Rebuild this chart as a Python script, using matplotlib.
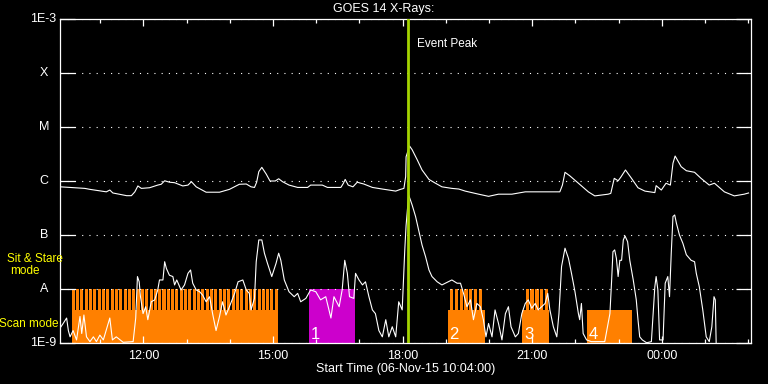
import matplotlib
matplotlib.use("Agg")
import matplotlib.pyplot as plt
import matplotlib.transforms as mtransforms
from matplotlib.ticker import NullLocator, FixedLocator
import numpy as np

plt.rcParams['font.family'] = ['Liberation Sans', 'DejaVu Sans']

# GOES 14 long channel (1-8 A), time in hours after 06-Nov-15 00:00
long_t = [10.07, 10.30, 10.64, 10.76, 11.14, 11.22, 11.29, 11.61, 11.72, 11.80,
          11.87, 11.95, 12.14, 12.33, 12.41, 12.49, 12.60, 12.72, 12.91, 13.03,
          13.11, 13.22, 13.45, 13.76, 13.99, 14.22, 14.38, 14.49, 14.57, 14.62,
          14.67, 14.74, 14.84, 14.93, 15.05, 15.13, 15.22, 15.37, 15.57, 15.80,
          15.87, 16.14, 16.26, 16.57, 16.63, 16.67, 16.74, 16.85, 16.95, 17.03,
          17.10, 17.30, 17.53, 17.84, 17.95, 18.03, 18.07, 18.08, 18.16, 18.22,
          18.34, 18.45, 18.61, 18.76, 18.91, 19.14, 19.30, 19.45, 19.76, 19.99,
          20.22, 20.53, 20.84, 21.14, 21.49, 21.64, 21.70, 21.76, 21.87, 22.07,
          22.30, 22.45, 22.76, 22.82, 22.90, 22.99, 23.05, 23.16, 23.30, 23.45,
          23.61, 23.84, 23.87, 23.99, 24.10, 24.20, 24.26, 24.31, 24.45, 24.57,
          24.76, 24.91, 25.10, 25.22, 25.45, 25.68, 25.91, 26.01]
long_f = [7.8e-7, 7.6e-7, 7.3e-7, 7.0e-7, 6.3e-7, 6.8e-7, 6.0e-7, 5.35e-7, 5.35e-7, 6.3e-7,
          8.1e-7, 7.3e-7, 7.5e-7, 8.4e-7, 8.7e-7, 1.01e-6, 9.5e-7, 9.3e-7, 8.1e-7, 8.4e-7,
          9.7e-7, 7.8e-7, 6.2e-7, 6.2e-7, 7.0e-7, 8.7e-7, 8.8e-7, 7.8e-7, 7.6e-7, 9.5e-7,
          1.49e-6, 1.79e-6, 1.35e-6, 1.0e-6, 1.0e-6, 1.10e-6, 9.7e-7, 8.4e-7, 7.6e-7, 7.6e-7,
          8.4e-7, 8.4e-7, 7.6e-7, 7.6e-7, 9.1e-7, 1.07e-6, 8.4e-7, 7.8e-7, 9.5e-7, 9.1e-7,
          8.8e-7, 7.6e-7, 7.1e-7, 6.5e-7, 7.0e-7, 7.3e-7, 1.2e-6, 2.8e-6, 4.45e-6, 3.8e-6,
          2.45e-6, 1.6e-6, 1.07e-6, 9.1e-7, 7.8e-7, 7.3e-7, 7.1e-7, 6.5e-7, 5.7e-7, 5.2e-7,
          5.7e-7, 5.7e-7, 6.3e-7, 6.3e-7, 6.3e-7, 6.3e-7, 8.4e-7, 1.45e-6, 1.25e-6, 9.1e-7,
          6.3e-7, 5.3e-7, 5.7e-7, 5.9e-7, 1.12e-6, 1.01e-6, 1.17e-6, 1.6e-6, 1.12e-6, 7.5e-7,
          6.5e-7, 6.1e-7, 8.2e-7, 6.8e-7, 9.1e-7, 8.4e-7, 2.13e-6, 2.9e-6, 1.84e-6, 1.55e-6,
          1.45e-6, 1.12e-6, 8.4e-7, 9.1e-7, 6.3e-7, 5.3e-7, 5.7e-7, 6.0e-7]

# GOES 14 short channel (0.5-4 A)
short_t = [10.07, 10.14, 10.22, 10.26, 10.30, 10.37, 10.45, 10.53, 10.57, 10.62,
           10.68, 10.76, 10.84, 10.91, 10.99, 11.07, 11.22, 11.28, 11.37, 11.53,
           11.76, 11.82, 11.86, 11.90, 11.93, 11.99, 12.05, 12.10, 12.18, 12.26,
           12.33, 12.37, 12.45, 12.49, 12.53, 12.60, 12.68, 12.72, 12.77, 12.87,
           12.95, 13.03, 13.09, 13.14, 13.22, 13.30, 13.37, 13.45, 13.53, 13.60,
           13.68, 13.76, 13.83, 13.91, 13.99, 14.11, 14.19, 14.30, 14.38, 14.45,
           14.49, 14.57, 14.61, 14.67, 14.74, 14.80, 14.87, 14.97, 15.07, 15.13,
           15.18, 15.26, 15.37, 15.49, 15.57, 15.64, 15.76, 15.87, 15.99, 16.10,
           16.22, 16.34, 16.41, 16.53, 16.60, 16.66, 16.72, 16.77, 16.87, 16.91,
           16.99, 17.07, 17.14, 17.22, 17.30, 17.37, 17.45, 17.53, 17.61, 17.68,
           17.76, 17.84, 17.91, 17.99, 18.05, 18.08, 18.14, 18.22, 18.30, 18.37,
           18.45, 18.53, 18.61, 18.68, 18.80, 18.91, 18.99, 19.14, 19.26, 19.34,
           19.41, 19.49, 19.57, 19.64, 19.72, 19.80, 19.87, 19.93, 19.99, 20.07,
           20.14, 20.22, 20.30, 20.38, 20.45, 20.51, 20.61, 20.68, 20.76, 20.84,
           20.91, 20.99, 21.07, 21.14, 21.22, 21.30, 21.36, 21.41, 21.49, 21.57,
           21.62, 21.68, 21.76, 21.84, 21.91, 21.99, 22.07, 22.10, 22.14, 22.18,
           22.26, 22.37, 22.53, 22.68, 22.80, 22.84, 22.87, 22.91, 22.95, 22.99,
           23.03, 23.07, 23.11, 23.15, 23.21, 23.26, 23.34, 23.41, 23.45, 23.49,
           23.55, 23.65, 23.76, 23.84, 23.87, 23.91, 23.95, 24.03, 24.08, 24.14,
           24.18, 24.22, 24.26, 24.30, 24.34, 24.41, 24.49, 24.57, 24.68, 24.76,
           24.80, 24.87, 24.95, 24.99, 25.03, 25.10, 25.16, 25.21, 25.24, 25.26,
           25.30]
short_f = [1.9e-9, 2.3e-9, 2.9e-9, 1.7e-9, 1.3e-9, 1.7e-9, 1.14e-9, 3.1e-9, 1.5e-9, 3.3e-9,
           1.3e-9, 1.06e-9, 1.3e-9, 1.06e-9, 1.4e-9, 1.14e-9, 2.9e-9, 1.14e-9, 1.3e-9, 1.03e-9,
           1.06e-9, 2.9e-9, 1.7e-8, 1.36e-8, 7.2e-9, 3.5e-9, 4.7e-9, 2.7e-9, 5.8e-9, 6.3e-9,
           9.6e-9, 1.47e-8, 1.47e-8, 3.2e-8, 2.4e-8, 1.8e-8, 1.7e-8, 1.19e-8, 1.47e-8, 9.6e-9,
           1.19e-8, 1.95e-8, 2.25e-8, 1.28e-8, 9.6e-9, 8.9e-9, 7.7e-9, 5.8e-9, 7.2e-9, 3.5e-9,
           1.7e-9, 3.1e-9, 5.8e-9, 3.3e-9, 4.7e-9, 8.3e-9, 1.36e-8, 1.47e-8, 9.6e-9, 8.3e-9,
           4.1e-9, 6.7e-9, 3.2e-8, 8.1e-8, 8.1e-8, 4.6e-8, 3.0e-8, 1.7e-8, 3.0e-8, 4.6e-8,
           3.4e-8, 1.47e-8, 8.9e-9, 7.2e-9, 8.3e-9, 5.8e-9, 6.7e-9, 9.6e-9, 8.9e-9, 6.3e-9,
           7.2e-9, 2.9e-9, 7.2e-9, 4.7e-9, 9.6e-9, 3.4e-8, 1.95e-8, 7.2e-9, 6.7e-9, 1.95e-8,
           1.47e-8, 1.19e-8, 1.36e-8, 7.2e-9, 4.1e-9, 3.5e-9, 1.7e-9, 1.3e-9, 2.7e-9, 1.3e-9,
           2.0e-9, 1.3e-9, 5.8e-9, 4.1e-9, 5.3e-8, 1.5e-7, 5.5e-7, 3.6e-7, 2.2e-7, 1.24e-7,
           6.5e-8, 4.0e-8, 2.25e-8, 1.7e-8, 1.36e-8, 1.19e-8, 1.28e-8, 1.47e-8, 1.28e-8, 1.28e-8,
           8.3e-9, 4.7e-9, 6.3e-9, 2.7e-9, 5.4e-9, 4.7e-9, 2.7e-9, 1.3e-9, 2.3e-9, 1.3e-9,
           4.1e-9, 2.3e-9, 1.14e-9, 3.5e-9, 4.7e-9, 2.0e-9, 1.3e-9, 1.5e-9, 3.5e-9, 5.4e-9,
           6.3e-9, 4.4e-9, 5.4e-9, 4.1e-9, 4.7e-9, 5.4e-9, 8.3e-9, 4.1e-9, 2.0e-9, 1.3e-9,
           3.5e-9, 2.6e-8, 5.7e-8, 3.7e-8, 1.95e-8, 9.0e-9, 3.5e-9, 2.7e-9, 5.4e-9, 1.5e-9,
           1.14e-9, 1.06e-9, 1.06e-9, 1.06e-9, 3.5e-9, 1.47e-8, 4.9e-8, 5.3e-8, 3.7e-8, 1.7e-8,
           3.4e-8, 3.4e-8, 8.1e-8, 9.6e-8, 7.5e-8, 3.4e-8, 1.47e-8, 6.3e-9, 2.7e-9, 1.3e-9,
           1.14e-9, 1.01e-9, 1.06e-9, 1.1e-8, 1.7e-8, 9.6e-9, 1.14e-9, 1.14e-9, 1.28e-8, 1.7e-8,
           7.2e-9, 4.6e-8, 2.2e-7, 2.35e-7, 1.65e-7, 1.0e-7, 7.0e-8, 4.3e-8, 3.4e-8, 3.2e-8,
           1.95e-8, 1.1e-8, 4.1e-9, 2.3e-9, 1.3e-9, 1.06e-9, 2.0e-9, 7.2e-9, 6.3e-9, 1.0e-9,
           5e-10]

class_levels = [1e-9, 1e-8, 1e-7, 1e-6, 1e-5, 1e-4, 1e-3]
class_labels = ['1E-9', 'A', 'B', 'C', 'M', 'X', '1E-3']

xtick_hours = [12, 15, 18, 21, 24]
xtick_labels = ['12:00', '15:00', '18:00', '21:00', '00:00']

peak_time = 18.13

# observing windows (hours): scan blocks, with sit & stare stripes on top
scan_start = [10.34, 19.04, 20.77, 22.27]
scan_end = [15.10, 19.90, 21.40, 23.31]
stripe_start = [10.34, 19.10, 20.85, None]
stripe_step = [0.10, 0.11, 0.11, None]
scan_names = ['', '2', '3', '4']
stare_start = [15.84]
stare_end = [16.90]
stare_names = ['1']

t0, t1 = 10.0667, 26.0667
orange = '#ff8000'
magenta = '#cc00cc'

fig = plt.figure(figsize=(7.68, 3.84), dpi=100, facecolor='black')
ax = fig.add_axes([60/768, 41/384, 691/768, 324/384])
ax.set_facecolor('black')
ax.set_yscale('log')
ax.set_ylim(1e-9, 1e-3)
ax.set_xlim(t0, t1)

low_top = 4.1e-9
for s, e, ss, st, name in zip(scan_start, scan_end, stripe_start, stripe_step, scan_names):
    ax.bar(s, low_top - 1e-9, bottom=1e-9, width=e - s, align='edge', color=orange, lw=0,
           antialiased=False, zorder=1)
    if ss is not None:
        starts = np.arange(ss, e - 0.03, st)
        ax.bar(starts, 1e-8 - 1e-9, bottom=1e-9, width=st * 0.7, align='edge',
               color=orange, lw=0, antialiased=False, zorder=1)
    if name:
        ax.text(s + 0.04, 1.2e-9, name, color='white', fontsize=12, va='baseline', zorder=4)

for s, e, name in zip(stare_start, stare_end, stare_names):
    ax.bar(s, 1e-8 - 1e-9, bottom=1e-9, width=e - s, align='edge', color=magenta, lw=0,
           antialiased=False, zorder=1)
    ax.text(s + 0.04, 1.2e-9, name, color='white', fontsize=12, va='baseline', zorder=4)

ax.plot(long_t, long_f, color='white', lw=0.8, zorder=3)
ax.plot(short_t, short_f, color='white', lw=0.8, zorder=3)

ax.axvline(peak_time, color='#a4d400', lw=2.0, zorder=5)
ax.text(peak_time + 0.2, 3.4e-4, 'Event Peak', color='white', fontsize=8.5, va='center')

# axes styling
for sp in ax.spines.values():
    sp.set_color('white')
    sp.set_linewidth(0.9)
ax.yaxis.set_major_locator(FixedLocator(class_levels))
ax.yaxis.set_minor_locator(NullLocator())
ax.set_yticklabels([])
ax.tick_params(axis='y', which='major', direction='in', length=11, width=0.9,
               color='white', left=True, right=True)
ax.grid(axis='y', which='major', color='white', linestyle=(0, (1, 5.5)), lw=0.8)

ax.set_xticks(xtick_hours)
ax.set_xticklabels(xtick_labels)
ax.xaxis.set_minor_locator(FixedLocator(np.arange(11, 27, 1)))
ax.tick_params(axis='x', which='major', direction='in', length=5, width=0.9, color='white',
               top=True, bottom=True, labelcolor='white', labelsize=9, pad=5)
ax.tick_params(axis='x', which='minor', direction='in', length=3, width=0.9, color='white',
               top=True, bottom=True)

trans = mtransforms.blended_transform_factory(ax.transAxes, ax.transData)
for lev, lab in zip(class_levels, class_labels):
    if lab.startswith('1E'):
        ax.text(-0.005, lev, lab, transform=trans, ha='right', va='center', color='white', fontsize=9)
    else:
        ax.text(-0.023, lev, lab, transform=trans, ha='center', va='center', color='white', fontsize=9)

fig.text(0.5, 1 - 9/384, 'GOES 14 X-Rays:', ha='center', va='center', color='white', fontsize=9)
fig.text(405.5/768, 1 - 369/384, 'Start Time (06-Nov-15 10:04:00)', ha='center', va='center',
         color='white', fontsize=9)

fig.text(34.5/768, 1 - 259/384, 'Sit & Stare', ha='center', va='center', color='#ffff00', fontsize=8.5)
fig.text(24.5/768, 1 - 271/384, 'mode', ha='center', va='center', color='#ffff00', fontsize=8.5)
fig.text(29/768, 1 - 324/384, 'Scan mode', ha='center', va='center', color='#ffff00', fontsize=8.5)

fig.savefig('out.png', dpi=100, facecolor='black')
